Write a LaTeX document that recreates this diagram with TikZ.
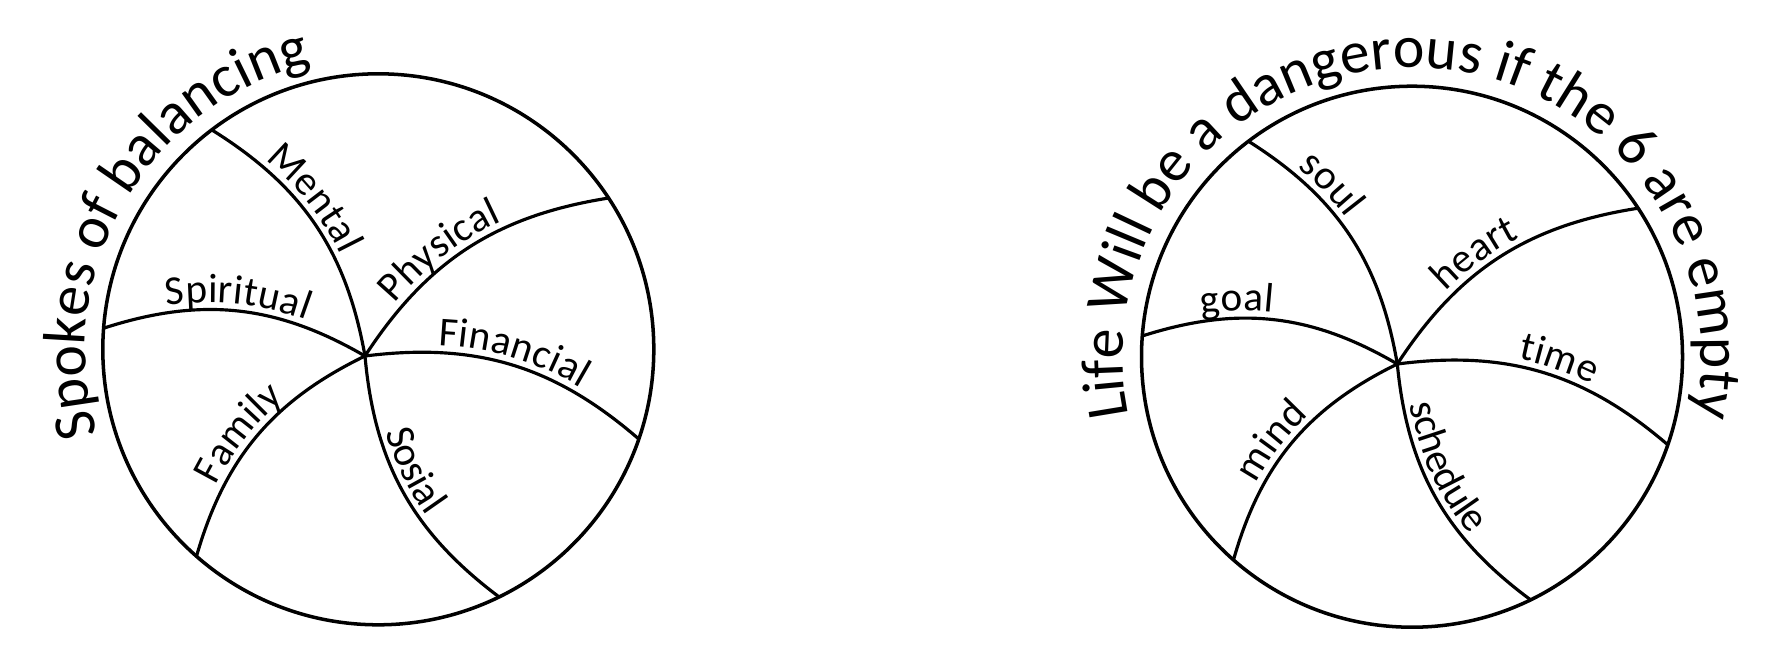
\documentclass[tikz,border=0pt]{standalone}
\usepackage{fontspec}
\setmainfont{Carlito}
\usetikzlibrary{calc,decorations.text}
\newcommand\lblfont{\fontsize{11.7}{14}\selectfont}
\newcommand\ttlfont{\fontsize{17}{20}\selectfont}
\begin{document}
\begin{tikzpicture}[
  rim/.style={line width=1pt},
  spoke/.style={line width=0.9pt},
  lbl/.style 2 args={postaction={decorate,decoration={text along path,raise=2pt,text align={left indent=#1},text={|\lblfont|#2}}}},
  ttl/.style={decorate,decoration={text along path,text align=center,text={|\ttlfont|#1}}}
]
\useasboundingbox (0,0) rectangle (17.81,6.57);
% ---------- left wheel ----------
\coordinate (LC) at (3.783,3.077);
\coordinate (LH) at (3.65,3.01);
\def\rl{2.755}
\coordinate (Lm)  at ($(LC)+(127.2:\rl)$);
\coordinate (Lp)  at ($(LC)+(33.3:\rl)$);
\coordinate (Ls)  at ($(LC)+(175.6:\rl)$);
\coordinate (Lf)  at ($(LC)+(-19.0:\rl)$);
\coordinate (Lfa) at ($(LC)+(228.7:\rl)$);
\coordinate (Lso) at ($(LC)+(-64.0:\rl)$);
\draw[rim] (LC) circle[radius=\rl];
\draw[spoke,lbl={0.6cm}{Mental}]    (Lm)  to[bend left=24]  (LH);
\draw[spoke,lbl={0.59cm}{Physical}] (LH)  to[bend left=24]  (Lp);
\draw[spoke,lbl={0.66cm}{Spiritual}](Ls)  to[bend left=24]  (LH);
\draw[spoke,lbl={0.73cm}{Financial}](LH)  to[bend left=24]  (Lf);
\draw[spoke,lbl={0.72cm}{Family}]   (Lfa) to[bend left=24]  (LH);
\draw[spoke,lbl={0.8cm}{Sosial}]    (LH)  to[bend right=24] (Lso);
\path[ttl={Spokes of balancing}] ($(LC)+(240:2.93)$) arc[start angle=240,end angle=60,radius=2.93];
% ---------- right wheel ----------
\coordinate (RC) at (14.12,3.003);
\coordinate (RH) at (13.973,2.93);
\def\rr{2.705}
\coordinate (Rso) at ($(RC)+(127.2:\rr)$);
\coordinate (Rh)  at ($(RC)+(33.3:\rr)$);
\coordinate (Rg)  at ($(RC)+(175.6:\rr)$);
\coordinate (Rt)  at ($(RC)+(-19.0:\rr)$);
\coordinate (Rmi) at ($(RC)+(228.7:\rr)$);
\coordinate (Rsc) at ($(RC)+(-64.0:\rr)$);
\draw[rim] (RC) circle[radius=\rr];
\draw[spoke,lbl={0.55cm}{soul}]     (Rso) to[bend left=24]  (RH);
\draw[spoke,lbl={0.86cm}{heart}]    (RH)  to[bend left=24]  (Rh);
\draw[spoke,lbl={0.62cm}{goal}]     (Rg)  to[bend left=24]  (RH);
\draw[spoke,lbl={1.2cm}{time}]      (RH)  to[bend left=24]  (Rt);
\draw[spoke,lbl={0.78cm}{mind}]     (Rmi) to[bend left=24]  (RH);
\draw[spoke,lbl={0.42cm}{schedule}] (RH)  to[bend right=24] (Rsc);
\path[ttl={Life Will be a dangerous if the 6 are empty}] ($(RC)+(250:2.89)$) arc[start angle=250,end angle=-70,radius=2.89];
\end{tikzpicture}
\end{document}
